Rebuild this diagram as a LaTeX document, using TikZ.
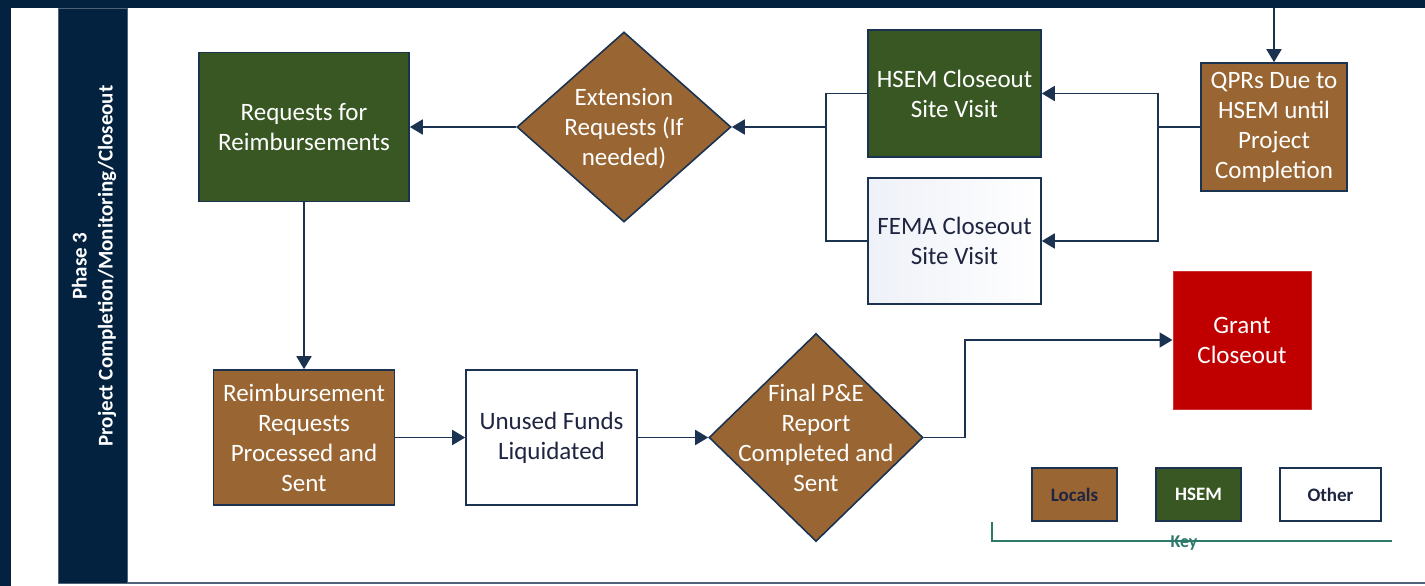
\documentclass[tikz,border=0pt]{standalone}
\usepackage{fontspec}
\setmainfont{Carlito}
\usetikzlibrary{positioning,shapes.geometric,arrows.meta}

\definecolor{navy}{HTML}{03223F}
\definecolor{edge}{HTML}{1B3350}
\definecolor{brownfill}{HTML}{996633}
\definecolor{hsemgreen}{HTML}{385723}
\definecolor{grantred}{HTML}{C00000}
\definecolor{ink}{HTML}{1F2440}
\definecolor{femabg}{HTML}{EEF1F8}
\definecolor{keyteal}{HTML}{2E7A6A}
\definecolor{rule}{HTML}{4F6378}

\begin{document}
\begin{tikzpicture}[x=1pt, y=1pt, node distance=100pt,
    box/.style={rectangle, draw=edge, line width=1.6pt, inner sep=0pt, align=center, font=\fontsize{25}{30}\selectfont},
    locals/.style={box, fill=brownfill, text=white},
    hsem/.style={box, fill=hsemgreen, text=white},
    other/.style={box, fill=white, text=ink},
    decide/.style={diamond, draw=edge, line width=1.6pt, fill=brownfill, inner sep=0pt, minimum width=214pt},
    dtext/.style={align=center, text=white, font=\fontsize{25}{30}\selectfont},
    keybox/.style={rectangle, draw=edge, line width=1.8pt, inner sep=0pt, minimum width=85pt, minimum height=53pt, font=\fontsize{19}{22}\selectfont\bfseries},
    link/.style={draw=edge, line width=1.8pt},
    arr/.style={link, -{Triangle[length=13pt, width=15pt]}}]

    \useasboundingbox (0,0) rectangle (1425,-586);

    % Frame and phase band
    \fill[navy] (0,0) rectangle (1425,-8);
    \fill[navy] (0,0) rectangle (11,-586);
    \filldraw[fill=navy, draw=rule, line width=0.8pt] (58,-8) rectangle (127,-583);
    \draw[rule, line width=2pt] (127,-583) -- (1425,-583);
    \node (phase) [rotate=90, align=center, text=white, font=\fontsize{21}{26}\selectfont\bfseries] at (94,-266) {Phase 3\\Project Completion/Monitoring/Closeout};

    % Top row
    \node (req) [hsem, minimum width=210pt, minimum height=149pt] at (304,-127) {Requests for\\Reimbursements};
    \node (ext) [decide, minimum height=190pt, right of=req, xshift=220pt, label={[dtext, yshift=-2pt]center:{Extension\\Requests (If\\needed)}}] {};
    \node (hsemvisit) [hsem, minimum width=173pt, minimum height=127pt, right of=ext, xshift=230.5pt, yshift=33.5pt] {HSEM Closeout\\Site Visit};
    \node (femavisit) [other, left color=femabg, right color=white, minimum width=173pt, minimum height=126pt, below of=hsemvisit, yshift=-47.5pt] {FEMA Closeout\\Site Visit};
    \node (qpr) [locals, minimum width=146pt, minimum height=128pt, right of=hsemvisit, xshift=219.5pt, yshift=-33.5pt] {QPRs Due to\\HSEM until\\Project\\Completion};

    % Bottom row
    \node (rrp) [locals, minimum width=181pt, minimum height=135pt, below of=req, yshift=-210.5pt] {Reimbursement\\Requests\\Processed and\\Sent};
    \node (unused) [other, minimum width=171pt, minimum height=135pt, right of=rrp, xshift=147.5pt] {Unused Funds\\Liquidated};
    \node (final) [decide, minimum height=208pt, right of=unused, xshift=164.5pt, label={[dtext]center:{Final P\&E\\Report\\Completed and\\Sent}}] {};
    \node (grant) [box, fill=grantred, draw=grantred!80!white, line width=1pt, text=white, minimum width=138pt, minimum height=138pt, right of=final, xshift=326pt, yshift=97.5pt] {Grant\\Closeout};

    % Connectors
    \coordinate (entry) at (qpr.north |- 0,-8);
    \coordinate (qsplit) at (1158,-127);
    \coordinate (vsplit) at (826,-127);
    \draw[arr] (entry) -- (qpr.north);
    \draw[link] (qpr.west) -- (qsplit);
    \draw[arr] (qsplit) |- (hsemvisit.east);
    \draw[arr] (qsplit) |- (femavisit.east);
    \draw[link] (hsemvisit.west) -| (vsplit);
    \draw[link] (femavisit.west) -| (vsplit);
    \draw[arr] (vsplit) -- (ext.east);
    \draw[arr] (ext.west) -- (req.east);
    \draw[arr] (req.south) -- (rrp.north);
    \draw[arr] (rrp.east) -- (unused.west);
    \draw[arr] (unused.east) -- (final.west);
    \draw[arr] (final.east) -- ++(41,0) |- (grant.west);

    % Key
    \node (klocals) [keybox, fill=brownfill, text=ink] at (1074.5,-494.5) {Locals};
    \node (khsem) [keybox, fill=hsemgreen, text=white, right of=klocals, xshift=24pt] {HSEM};
    \node (kother) [keybox, fill=white, text=ink, minimum width=101pt, right of=khsem, xshift=32pt] {Other};
    \draw[keyteal, line width=1.8pt] (992,-522) -- (992,-541) -- (1392,-541);
    \node (keylbl) [text=keyteal, font=\fontsize{18}{20}\selectfont\bfseries] at (1184,-543) {Key};

\end{tikzpicture}
\end{document}
